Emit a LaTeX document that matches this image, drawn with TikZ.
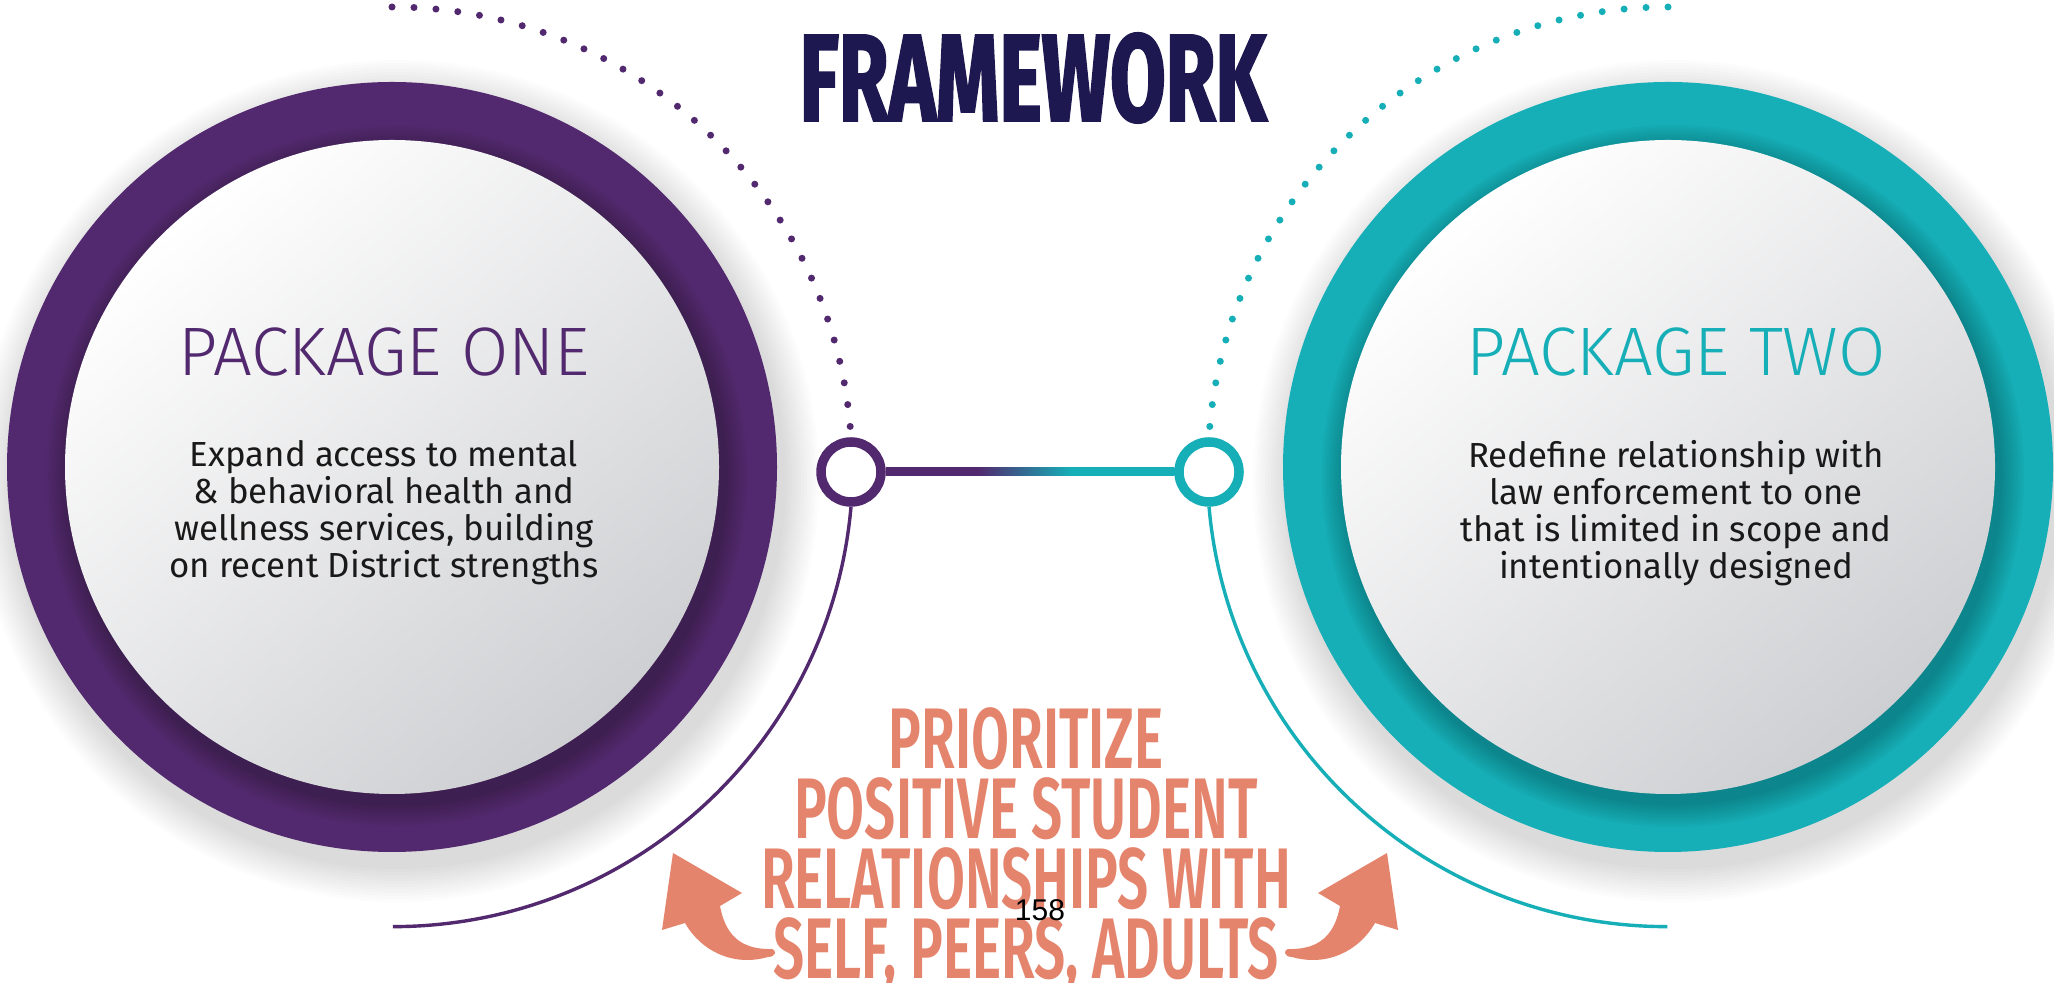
\documentclass[tikz,border=0pt]{standalone}
\usepackage{fontspec}
\setmainfont{Fira Sans}
\newfontfamily\headfont{Fira Sans Light}
\newfontfamily\bannerfont{Fira Sans SemiBold}[FakeStretch=0.64]
\newfontfamily\titlefont{Fira Sans}[FakeStretch=0.65, FakeBold=1.6]
\newfontfamily\pagefont{Liberation Sans}
\usetikzlibrary{positioning}
\definecolor{pkgpurple}{RGB}{82,41,110}
\definecolor{pkgteal}{RGB}{22,174,183}
\definecolor{navy}{RGB}{30,24,80}
\definecolor{salmon}{RGB}{229,132,108}
\definecolor{discgray}{RGB}{206,207,210}
\pgfdeclarehorizontalshading{linkfade}{100bp}{color(0bp)=(pkgpurple); color(41bp)=(pkgpurple); color(57bp)=(pkgteal); color(100bp)=(pkgteal)}

\begin{document}
\begin{tikzpicture}[x=0.5pt, y=0.5pt,
    ring/.style={circle, minimum size=385pt, inner sep=0pt, outer sep=0pt},
    disc/.style={circle, minimum size=327pt, inner sep=0pt,
        top color=white, bottom color=discgray, shading angle=40},
    hub/.style={circle, draw=#1, line width=4.75pt, fill=white,
        minimum size=30pt, inner sep=0pt},
    arcline/.style={draw=#1, line width=1.7pt},
    dotline/.style={draw=#1, line width=3.5pt, line cap=round,
        dash pattern=on 0pt off 11pt},
    pkghead/.style={font=\headfont\fontsize{34.3}{40}\selectfont, inner sep=0pt},
    pkgbody/.style={font=\fontsize{17.4}{18.5}\selectfont, align=center,
        text=black!90, inner sep=0pt},
    banner/.style={font=\bannerfont\fontsize{43}{35}\selectfont,
        text=salmon, align=center, inner sep=0pt},
    curlarrow/.pic={
        \fill[salmon] (0,0) -- (69,-40) -- (47,-53)
            .. controls (52,-80) and (66,-97) .. (99,-96)
            .. controls (104,-97) and (103,-104) .. (95,-104)
            .. controls (60,-114) and (28,-98) .. (12,-70) -- (-11,-77) -- cycle;}]
  \useasboundingbox (0,0) rectangle (2054,983);
  \clip (0,0) rectangle (2054,983);
  \fill[white] (0,0) rectangle (2054,983);
  % soft halo under both rings
  \foreach \cx in {392,1668}
    \foreach \k in {1,...,12}
      \fill[black, opacity=0.012] (\cx+6,502) circle[radius=192.5pt+1.5pt*\k];
  % rings
  \node[ring, fill=pkgpurple] (oneRing) at (392,516) {};
  \node[ring, fill=pkgteal]   (twoRing) at (1668,516) {};
  \foreach \cx in {392,1668}
    \foreach \k in {1,...,10}
      \fill[black, opacity=0.025] (\cx+5,507) circle[radius=163.5pt+1.2pt*\k];
  \node[disc] (one) at (oneRing.center) {};
  \node[disc] (two) at (twoRing.center) {};
  % hubs and link
  \node[hub=pkgpurple] (hubL) at (851,511) {};
  \node[hub=pkgteal]   (hubR) at (1209,511) {};
  \shade[shading=linkfade] ([yshift=2pt]hubL.east) rectangle ([yshift=-2pt]hubR.west);
  % arcs round the rings
  \draw[arcline=pkgpurple] (hubL.south) arc[start angle=-5, end angle=-90, radius=230pt];
  \draw[dotline=pkgpurple] (oneRing.center) ++(0,460) arc[start angle=90, end angle=3.74, radius=230pt];
  \draw[arcline=pkgteal] (hubR.south) arc[start angle=185, end angle=270, radius=230pt];
  \draw[dotline=pkgteal] (twoRing.center) ++(0,460) arc[start angle=90, end angle=176.26, radius=230pt];
  % package texts
  \node[pkghead, text=pkgpurple] (oneHead) at (384,631) {PACKAGE ONE};
  \node[pkgbody, below=31.5pt of oneHead] (oneBody)
    {Expand access to mental\\ \& behavioral health and\\
     wellness services, building\\ on recent District strengths};
  \node[pkghead, text=pkgteal] (twoHead) at (1676,631) {PACKAGE TWO};
  \node[pkgbody, below=31.5pt of twoHead] (twoBody)
    {Redefine relationship with\\ law enforcement to one\\
     that is limited in scope and\\ intentionally designed};
  % title and focus text
  \node[font=\titlefont\bfseries\fontsize{62}{62}\selectfont, text=navy, inner sep=0pt]
    (title) at (1033,905) {FRAMEWORK};
  \node[banner, anchor=north] (focus) at (1026,276)
    {PRIORITIZE\\ POSITIVE STUDENT\\ RELATIONSHIPS WITH\\ SELF, PEERS, ADULTS};
  \pic at (673,130) {curlarrow};
  \pic[xscale=-1] at (1387,130) {curlarrow};
  \node[font=\pagefont\fontsize{15}{18}\selectfont, inner sep=0pt] (pageno) at (1040,73) {158};
\end{tikzpicture}
\end{document}
